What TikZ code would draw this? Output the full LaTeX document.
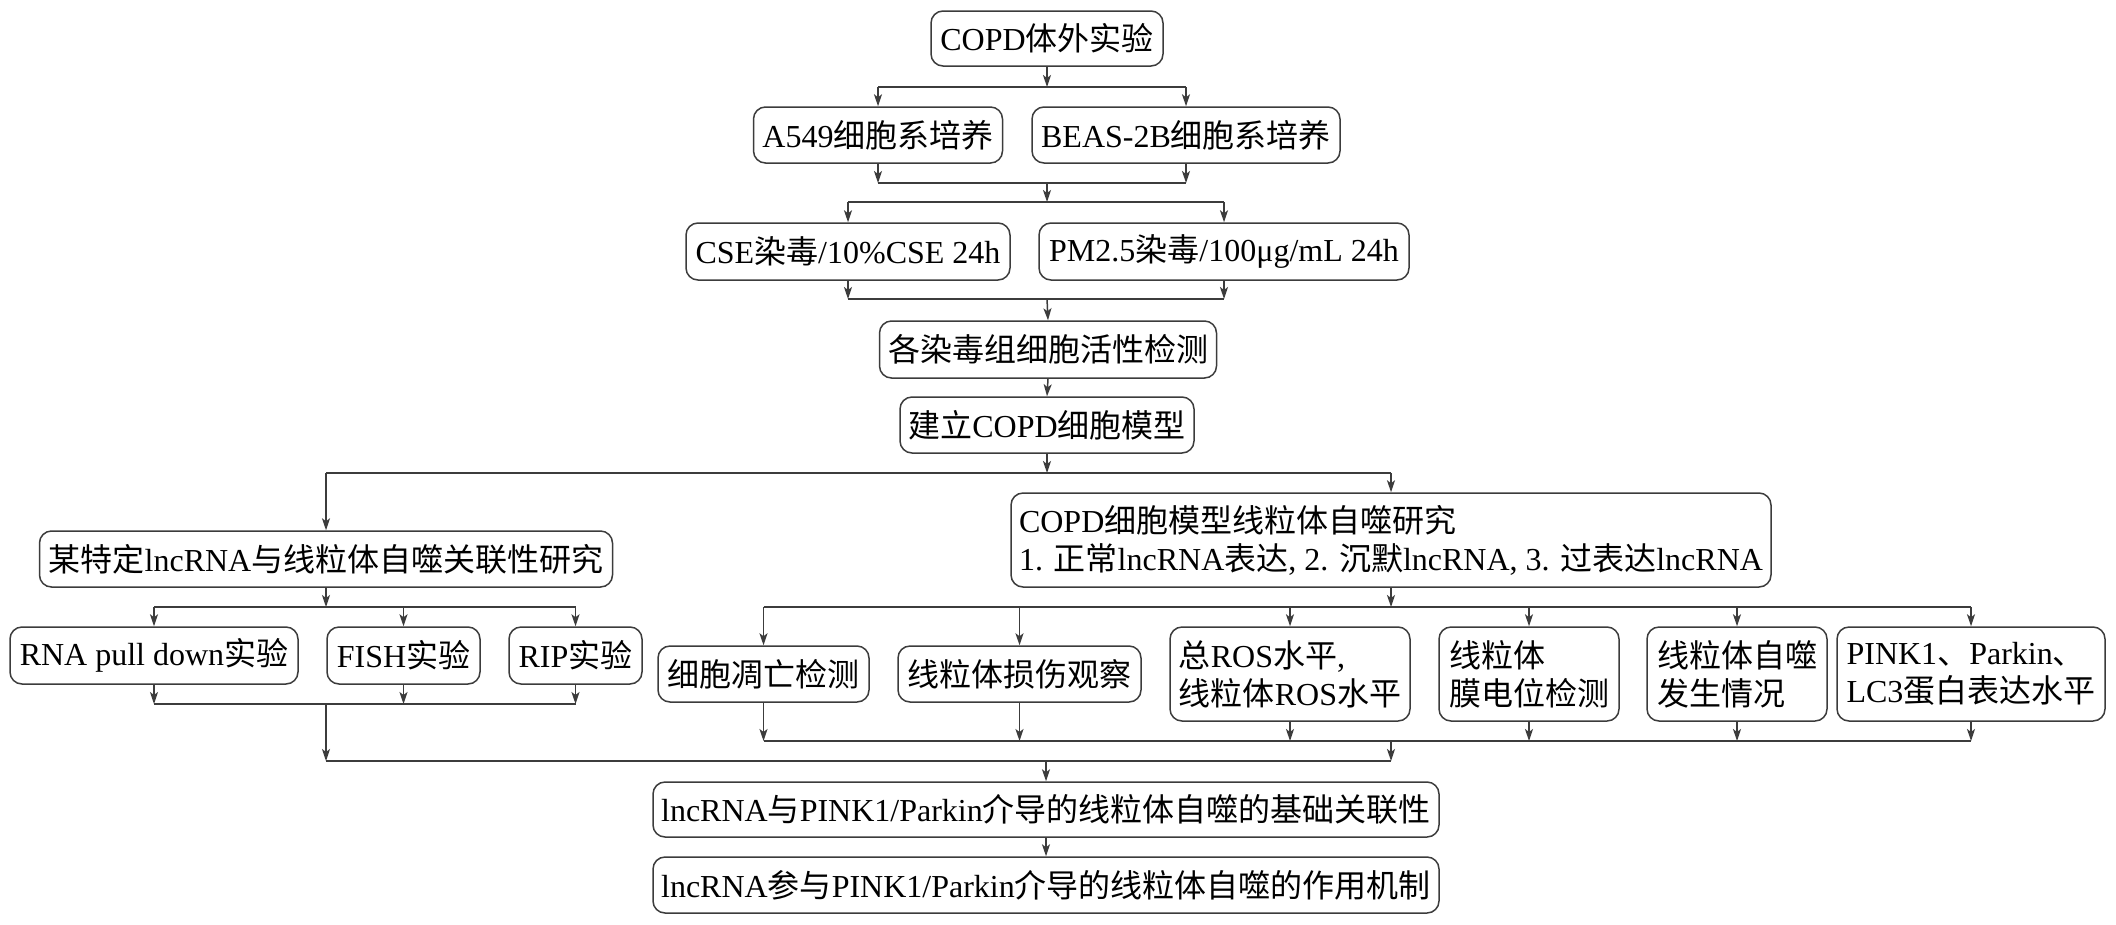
\documentclass[tikz,border=0pt]{standalone}
\usepackage{fontspec}
\setmainfont{Liberation Serif}
\newfontfamily\zhfont{Noto Sans CJK SC}
\newcommand\zh[1]{{\zhfont #1}}
\usetikzlibrary{arrows.meta}
\definecolor{ln}{HTML}{3C3C3C}
\begin{document}
\begin{tikzpicture}[x=1pt,y=-1pt,
  box/.style={draw=ln,line width=1.5pt,rounded corners=12pt,fill=white,
    inner xsep=8pt,inner ysep=4pt,align=left,
    font=\fontsize{32}{38}\selectfont},
  wire/.style={draw=ln,line width=1.5pt},
  arr/.style={wire,-{Stealth[length=12pt,width=8pt,inset=3pt]}}]
\useasboundingbox (0,0) rectangle (2116,924);
\fill[white] (0,0) rectangle (2116,924);
% nodes
\node[box,minimum width=232pt,minimum height=55pt] (top) at (1047,38.5) {COPD\zh{体外实验}};
\node[box,minimum width=249pt,minimum height=56pt] (a549) at (878,135) {A549\zh{细胞系培养}};
\node[box,minimum width=308pt,minimum height=56pt] (beas) at (1186,135) {BEAS-2B\zh{细胞系培养}};
\node[box,minimum width=324pt,minimum height=57pt] (cse) at (848,251.5) {CSE\zh{染毒}/10\%CSE 24h};
\node[box,minimum width=370pt,minimum height=57pt] (pm) at (1224,251.5) {PM2.5\zh{染毒}/100μg/mL 24h};
\node[box,minimum width=337pt,minimum height=57pt] (viab) at (1048,349.5) {\zh{各染毒组细胞活性检测}};
\node[box,minimum width=294pt,minimum height=56pt] (model) at (1047,425) {\zh{建立}COPD\zh{细胞模型}};
\node[box,minimum width=573pt,minimum height=56pt] (left) at (326,559) {\zh{某特定}lncRNA\zh{与线粒体自噬关联性研究}};
\node[box,minimum width=754pt,minimum height=94pt] (right) at (1391,540) {COPD\zh{细胞模型线粒体自噬研究}\\1. \zh{正常}lncRNA\zh{表达}, 2. \zh{沉默}lncRNA, 3. \zh{过表达}lncRNA};
\node[box,minimum width=288pt,minimum height=57pt] (rna) at (154,655.5) {RNA pull down\zh{实验}};
\node[box,minimum width=153pt,minimum height=57pt] (fish) at (403.5,655.5) {FISH\zh{实验}};
\node[box,minimum width=133pt,minimum height=57pt] (rip) at (575.5,655.5) {RIP\zh{实验}};
\node[box,minimum width=211pt,minimum height=56pt] (apo) at (763.5,674) {\zh{细胞凋亡检测}};
\node[box,minimum width=243pt,minimum height=56pt] (dmg) at (1019.5,674) {\zh{线粒体损伤观察}};
\node[box,minimum width=240pt,minimum height=94pt] (ros) at (1290,674) {\zh{总}ROS\zh{水平},\\\zh{线粒体}ROS\zh{水平}};
\node[box,minimum width=180pt,minimum height=94pt] (mmp) at (1529,674) {\zh{线粒体}\\\zh{膜电位检测}};
\node[box,minimum width=180pt,minimum height=94pt] (mph) at (1737,674) {\zh{线粒体自噬}\\\zh{发生情况}};
\node[box,minimum width=268pt,minimum height=94pt] (pink) at (1971,674) {PINK1\zh{、}Parkin\zh{、}\\LC3\zh{蛋白表达水平}};
\node[box,minimum width=786pt,minimum height=55pt] (r1) at (1046,809.5) {lncRNA\zh{与}PINK1/Parkin\zh{介导的线粒体自噬的基础关联性}};
\node[box,minimum width=786pt,minimum height=56pt] (r2) at (1046,885) {lncRNA\zh{参与}PINK1/Parkin\zh{介导的线粒体自噬的作用机制}};
% junction coordinates
\coordinate (s1) at (1047,87);
\coordinate (m1) at (1047,183);
\coordinate (s2) at (1047,202);
\coordinate (m2) at (1047,299);
\coordinate (s3) at (1047,473);
\coordinate (s4) at (0,607);
\coordinate (m4) at (0,704);
\coordinate (m5) at (0,741);
\coordinate (b) at (0,761);
% top
\draw[arr] (top.south) -- (s1);
\draw[wire] (a549 |- s1) -- (beas |- s1);
\draw[arr] (a549 |- s1) -- (a549.north);
\draw[arr] (beas |- s1) -- (beas.north);
\draw[arr] (a549.south) -- (a549 |- m1);
\draw[arr] (beas.south) -- (beas |- m1);
\draw[wire] (a549 |- m1) -- (beas |- m1);
\draw[arr] (m1) -- (s2);
\draw[wire] (cse |- s2) -- (pm |- s2);
\draw[arr] (cse |- s2) -- (cse.north);
\draw[arr] (pm |- s2) -- (pm.north);
\draw[arr] (cse.south) -- (cse |- m2);
\draw[arr] (pm.south) -- (pm |- m2);
\draw[wire] (cse |- m2) -- (pm |- m2);
\draw[arr] (m2) -- (viab.north);
\draw[arr] (viab.south) -- (model.north);
\draw[arr] (model.south) -- (s3);
\draw[wire] (left |- s3) -- (right |- s3);
\draw[arr] (left |- s3) -- (left.north);
\draw[arr] (right |- s3) -- (right.north);
% left branch
\draw[arr] (left.south) -- (left |- s4);
\draw[wire] (rna |- s4) -- (rip |- s4);
\foreach \n in {rna,fish,rip}{
  \draw[arr] (\n |- s4) -- (\n.north);
  \draw[arr] (\n.south) -- (\n |- m4);
}
\draw[wire] (rna |- m4) -- (rip |- m4);
\draw[arr] (left |- m4) -- (left |- b);
% right branch
\draw[arr] (right.south) -- (right |- s4);
\draw[wire] (apo |- s4) -- (pink |- s4);
\foreach \n in {apo,dmg,ros,mmp,mph,pink}{
  \draw[arr] (\n |- s4) -- (\n.north);
  \draw[arr] (\n.south) -- (\n |- m5);
}
\draw[wire] (apo |- m5) -- (pink |- m5);
\draw[arr] (right |- m5) -- (right |- b);
\draw[wire] (left |- b) -- (right |- b);
\draw[arr] (r1 |- b) -- (r1.north);
\draw[arr] (r1.south) -- (r2.north);
\end{tikzpicture}
\end{document}
